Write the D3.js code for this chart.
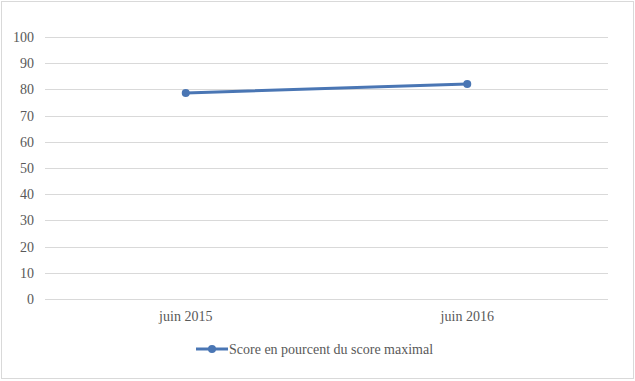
<!DOCTYPE html>
<html>
<head>
<meta charset="utf-8">
<script src="https://cdn.jsdelivr.net/npm/d3@7"></script>
<style>
  body { margin: 0; background: #fff; }
  text { font-family: "Liberation Serif", "DejaVu Serif", serif; fill: #595959; }
</style>
</head>
<body>
<svg id="chart"></svg>
<script>
var categories = ["juin 2015", "juin 2016"];
var scores = [78.6, 82.1];
var yTicks = [0, 10, 20, 30, 40, 50, 60, 70, 80, 90, 100];
var seriesName = "Score en pourcent du score maximal";

var width = 635, height = 381;
var margin = {top: 37, right: 27, bottom: 82, left: 45};
var innerW = width - margin.left - margin.right;
var innerH = height - margin.top - margin.bottom;
var color = "#4a76b4";

var svg = d3.select("#chart").attr("width", width).attr("height", height);

svg.append("rect")
  .attr("x", 1.5).attr("y", 1.5)
  .attr("width", width - 3).attr("height", height - 4)
  .attr("fill", "#fff").attr("stroke", "#d9d9d9");

var chart = svg.append("g")
  .attr("transform", `translate(${margin.left}, ${margin.top})`);

var x = d3.scaleBand().domain(categories).range([0, innerW]);
var y = d3.scaleLinear().domain([0, 100]).range([innerH, 0]);

// gridlines
chart.selectAll("line.grid")
  .data(yTicks)
  .enter().append("line")
  .attr("class", "grid")
  .attr("x1", 0).attr("x2", innerW)
  .attr("y1", d => Math.round(y(d)) + 0.5)
  .attr("y2", d => Math.round(y(d)) + 0.5)
  .attr("stroke", "#d9d9d9").attr("stroke-width", 1);

// y labels
chart.selectAll("text.ylab")
  .data(yTicks)
  .enter().append("text")
  .attr("class", "ylab")
  .attr("x", -11).attr("y", d => y(d))
  .attr("dy", "0.35em")
  .attr("text-anchor", "end")
  .style("font-size", "14px")
  .text(d => d);

// x labels
chart.selectAll("text.xlab")
  .data(categories)
  .enter().append("text")
  .attr("class", "xlab")
  .attr("x", d => x(d) + x.bandwidth() / 2)
  .attr("y", innerH + 22)
  .attr("text-anchor", "middle")
  .style("font-size", "14px")
  .text(d => d);

var line = d3.line()
  .x((d, i) => x(categories[i]) + x.bandwidth() / 2)
  .y(d => y(d));

chart.append("path")
  .datum(scores)
  .attr("d", line)
  .attr("fill", "none")
  .attr("stroke", color)
  .attr("stroke-width", 3)
  .attr("stroke-linecap", "round");

chart.selectAll("circle.pt")
  .data(scores)
  .enter().append("circle")
  .attr("class", "pt")
  .attr("cx", (d, i) => x(categories[i]) + x.bandwidth() / 2)
  .attr("cy", d => y(d))
  .attr("r", 4)
  .attr("fill", color);

// legend
var legend = svg.append("g").attr("transform", "translate(196, 349)");
legend.append("line")
  .attr("x1", 0).attr("x2", 32)
  .attr("y1", 0).attr("y2", 0)
  .attr("stroke", color).attr("stroke-width", 3);
legend.append("circle")
  .attr("cx", 16).attr("cy", 0).attr("r", 4).attr("fill", color);
legend.append("text")
  .attr("x", 33).attr("y", 0).attr("dy", "0.35em")
  .style("font-size", "14px")
  .text(seriesName);
</script>
</body>
</html>
